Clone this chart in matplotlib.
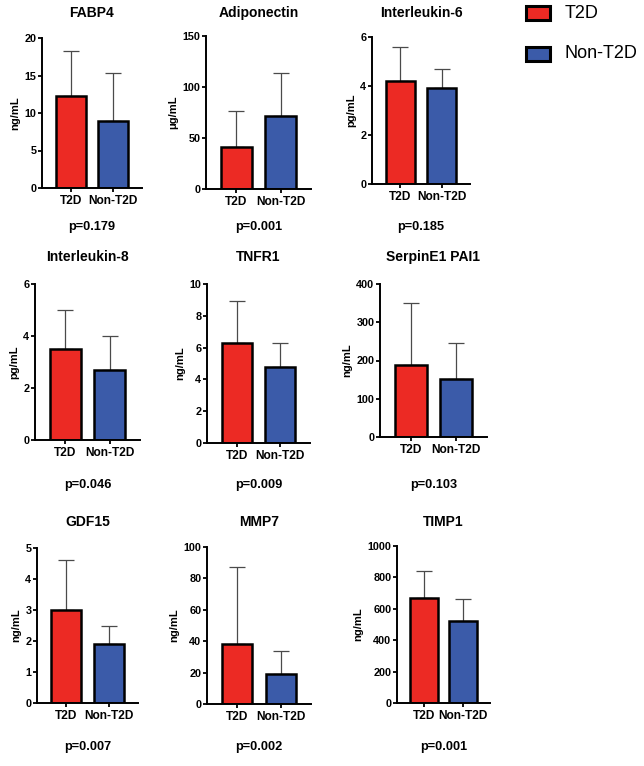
import matplotlib
matplotlib.use("Agg")
import matplotlib.pyplot as plt
from matplotlib.patches import Rectangle

plt.rcParams['font.family'] = ['Liberation Sans', 'DejaVu Sans']
plt.rcParams['font.weight'] = 'bold'

# data
markers = ["FABP4", "Adiponectin", "Interleukin-6",
           "Interleukin-8", "TNFR1", "SerpinE1 PAI1",
           "GDF15", "MMP7", "TIMP1"]
units = ["ng/mL", "\u03bcg/mL", "pg/mL",
         "pg/mL", "ng/mL", "ng/mL",
         "ng/mL", "ng/mL", "ng/mL"]
groups = ["T2D", "Non-T2D"]
t2d_mean = [12.3, 41, 4.2, 3.5, 6.3, 188, 3.0, 38, 670]
t2d_sd = [6.0, 35, 1.4, 1.5, 2.6, 162, 1.6, 49, 170]
non_mean = [8.9, 72, 3.9, 2.7, 4.8, 152, 1.9, 19, 525]
non_sd = [6.5, 42, 0.8, 1.3, 1.5, 95, 0.6, 15, 137]
y_max = [20, 150, 6, 6, 10, 400, 5, 100, 1000]
y_step = [5, 50, 2, 2, 2, 100, 1, 20, 200]
p_values = ["0.179", "0.001", "0.185",
            "0.046", "0.009", "0.103",
            "0.007", "0.002", "0.001"]

red = "#ec2a24"
blue = "#3b5ba9"

W, H = 644, 766
fig = plt.figure(figsize=(W / 100, H / 100), dpi=100)

# axes boxes in pixels: left, top, right, bottom
boxes = [(42, 38, 142, 188), (206, 36, 311, 189), (372, 37, 470, 184),
         (35, 284, 140, 440), (207, 284, 310, 443), (380, 284, 487, 437),
         (37, 548, 138, 703), (207, 547, 311, 704), (397, 546, 490, 703)]
title_y = [13, 257, 522]
pval_y = [227, 485, 747]

for i, name in enumerate(markers):
    l, t, r, b = boxes[i]
    ax = fig.add_axes([l / W, 1 - b / H, (r - l) / W, (b - t) / H])
    means = [t2d_mean[i], non_mean[i]]
    sds = [t2d_sd[i], non_sd[i]]
    ax.errorbar([0, 1], means, yerr=[[0, 0], sds], fmt='none',
                ecolor='#4a4a4a', elinewidth=0.9, capsize=5.5, capthick=0.9,
                zorder=1)
    ax.bar([0, 1], means, width=0.7, color=[red, blue],
           edgecolor='black', linewidth=1.8, zorder=2)
    ax.set_xlim(-0.69, 1.69)
    ax.set_ylim(0, y_max[i])
    ax.set_yticks(range(0, y_max[i] + 1, y_step[i]))
    ax.set_xticks([0, 1])
    ax.set_xticklabels(groups, fontsize=8.6, fontweight='bold')
    ax.tick_params(axis='y', labelsize=7.8, width=1.3, length=3, pad=1)
    ax.tick_params(axis='x', width=1.3, length=3, pad=2)
    for s in ['top', 'right']:
        ax.spines[s].set_visible(False)
    for s in ['left', 'bottom']:
        ax.spines[s].set_linewidth(1.4)
    ax.set_ylabel(units[i], fontsize=8, fontweight='bold', labelpad=3)

    cx = (l + r) / 2 / W
    row = i // 3
    fig.text(cx, 1 - title_y[row] / H, name, ha='center', va='center',
             fontsize=10, fontweight='bold')
    fig.text(cx, 1 - pval_y[row] / H, "p=" + p_values[i], ha='center',
             va='center', fontsize=9.2, fontweight='bold')

# legend
leg_y = [13, 54]
for k, (lab, col) in enumerate(zip(groups, [red, blue])):
    fig.add_artist(Rectangle((526 / W, 1 - (leg_y[k] + 6.5) / H), 24 / W, 13 / H,
                             transform=fig.transFigure, facecolor=col,
                             edgecolor='black', linewidth=2.2))
    fig.text(565 / W, 1 - leg_y[k] / H, lab, ha='left', va='center',
             fontsize=13, fontweight='normal')

fig.savefig("out.png", dpi=100)
